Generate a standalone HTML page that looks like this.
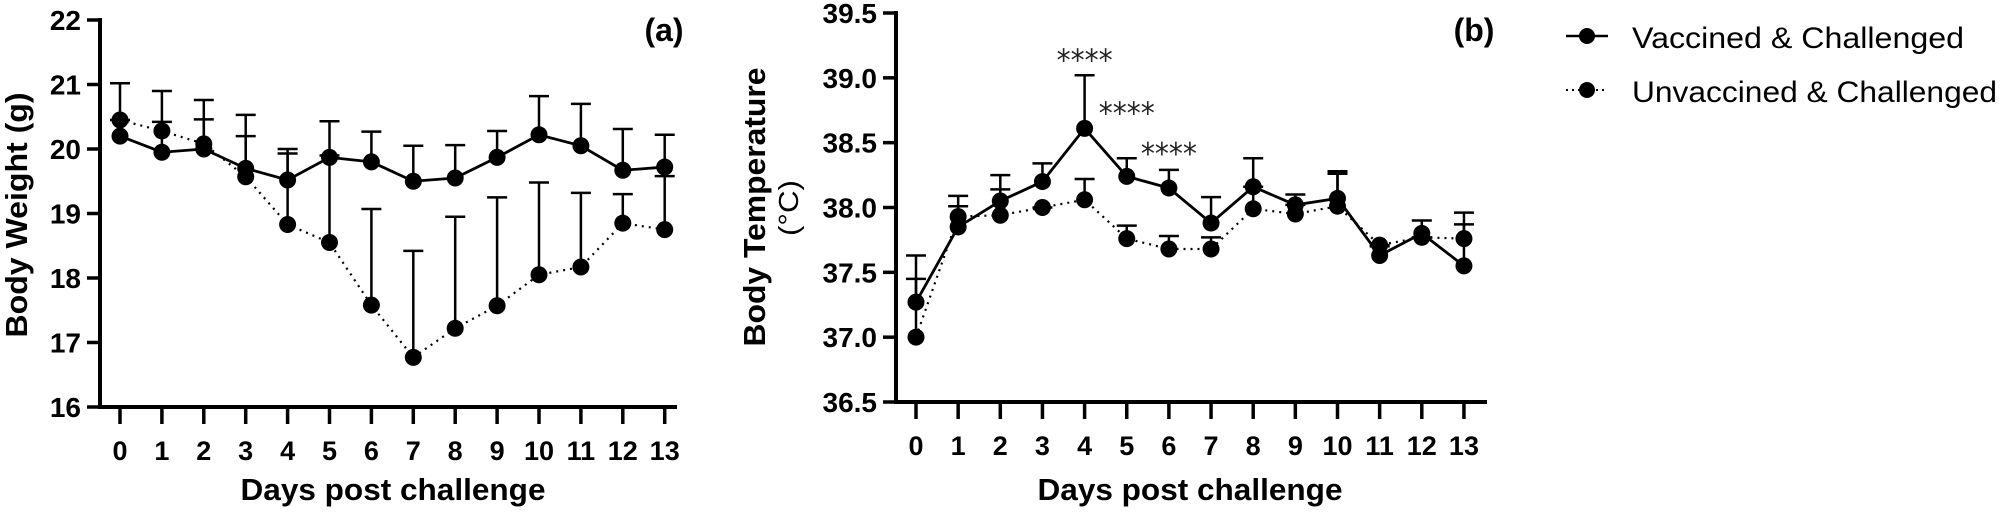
<!DOCTYPE html>
<html><head><meta charset="utf-8"><style>
html,body{margin:0;padding:0;background:#fff;}
svg{display:block;font-family:"Liberation Sans",Arial,sans-serif;}
</style></head><body>
<svg id="chart" width="2000" height="517" viewBox="0 0 2000 517" xmlns="http://www.w3.org/2000/svg">
<g id="pa"></g>
<g id="pb"></g>
<g id="legend">
  <g>
    <line x1="1566" y1="36" x2="1608" y2="36" stroke="#000" stroke-width="2.5"/>
    <circle cx="1587" cy="36" r="8"/>
    <text x="1632" y="48" font-size="30" textLength="332" lengthAdjust="spacingAndGlyphs">Vaccined &amp; Challenged</text>
  </g>
  <g>
    <line x1="1566" y1="90" x2="1608" y2="90" stroke="#000" stroke-width="2" stroke-dasharray="2,4"/>
    <circle cx="1587" cy="90" r="8"/>
    <text x="1632" y="102" font-size="30" textLength="365" lengthAdjust="spacingAndGlyphs">Unvaccined &amp; Challenged</text>
  </g>
</g>
</svg>
<script>
const days = [0,1,2,3,4,5,6,7,8,9,10,11,12,13];
// Panel A: body weight
const weightTicks = [16,17,18,19,20,21,22];
const weightVacc = [20.2,19.95,20.0,19.7,19.52,19.87,19.8,19.5,19.55,19.87,20.22,20.05,19.67,19.72];
const weightVaccTop = [20.45,20.42,20.46,20.2,19.93,20.43,20.27,20.05,20.06,20.28,20.82,20.7,20.31,20.22];
const weightUnvacc = [20.45,20.28,20.08,19.57,18.83,18.55,17.58,16.77,17.22,17.57,18.05,18.17,18.85,18.75];
const weightUnvaccTop = [21.02,20.9,20.76,20.53,20.0,19.9,19.07,18.42,18.95,19.25,19.48,19.32,19.3,19.58];
// Panel B: body temperature
const tempTicks = [36.5,37.0,37.5,38.0,38.5,39.0,39.5];
const tempTickLabels = ["36.5","37.0","37.5","38.0","38.5","39.0","39.5"];
const tempVacc = [37.27,37.85,38.05,38.2,38.61,38.24,38.15,37.88,38.16,38.02,38.07,37.63,37.8,37.55];
const tempVaccTop = [37.63,38.09,38.25,38.34,39.02,38.38,38.29,38.08,38.38,38.1,38.28,37.7,37.9,37.87];
const tempUnvacc = [37.0,37.93,37.94,38.0,38.06,37.76,37.68,37.68,37.99,37.95,38.01,37.71,37.77,37.76];
const tempUnvaccTop = [37.45,38.01,38.14,38.0,38.22,37.86,37.78,37.77,38.16,38.02,38.26,37.71,37.77,37.96];
const starDays = [4,5,6];
const starValues = [39.18,38.77,38.46];

const NS = "http://www.w3.org/2000/svg";
function mk(parent, tag, attrs, text){
  const e = document.createElementNS(NS, tag);
  for (const k in attrs) e.setAttribute(k, attrs[k]);
  if (text !== undefined) e.textContent = text;
  parent.appendChild(e);
  return e;
}

function drawPanel(g, cfg){
  const xs = d => cfg.x0 + d * cfg.dx;
  const ys = v => cfg.yBot - (v - cfg.vMin) / (cfg.vMax - cfg.vMin) * (cfg.yBot - cfg.yTop);
  const ya = mk(g, "line", {x1:cfg.axX, y1:cfg.yTop-2, x2:cfg.axX, y2:cfg.yBot+2, stroke:"#000", "stroke-width":4});
  
  
  const xa = mk(g, "line", {x1:cfg.axX-2, y1:cfg.yBot, x2:cfg.xEnd, y2:cfg.yBot, stroke:"#000", "stroke-width":4});
  
  
  cfg.yTicks.forEach((t,i) => {
    const y = ys(t);
    mk(g, "line", {x1:cfg.axX-13, y1:y, x2:cfg.axX, y2:y, stroke:"#000", "stroke-width":3.5});
    const lb = mk(g, "text", {x:cfg.axX-19, y:y+10, "font-size":28, "font-weight":"bold", "text-anchor":"end"}, cfg.yLabels[i]);
    
    
  });
  days.forEach(d => {
    const x = xs(d);
    mk(g, "line", {x1:x, y1:cfg.yBot, x2:x, y2:cfg.yBot+17, stroke:"#000", "stroke-width":3.5});
    const lb = mk(g, "text", {x:x, y:cfg.yBot+53, "font-size":27, "font-weight":"bold", "text-anchor":"middle"}, String(d));
    
    
  });
  const series = [
    {v:cfg.unvacc, top:cfg.unvaccTop, dash:"2,5", w:2.2, name:"unvaccined"},
    {v:cfg.vacc, top:cfg.vaccTop, dash:null, w:2.8, name:"vaccined"}
  ];
  series.forEach(s => {
    const sg = mk(g, "g", {});
    
    
    days.forEach((d,i) => {
      const x = xs(d), y1 = ys(s.v[i]), y2 = ys(s.top[i]);
      mk(sg, "line", {x1:x, y1:y1, x2:x, y2:y2, stroke:"#000", "stroke-width":2.5});
      mk(sg, "line", {x1:x-10, y1:y2, x2:x+10, y2:y2, stroke:"#000", "stroke-width":2.5});
    });
    const pts = days.map((d,i) => xs(d) + "," + ys(s.v[i])).join(" ");
    const pl = mk(sg, "polyline", {points:pts, fill:"none", stroke:"#000", "stroke-width":s.w});
    if (s.dash) pl.setAttribute("stroke-dasharray", s.dash);
    
    
    days.forEach((d,i) => {
      const c = mk(sg, "circle", {cx:xs(d), cy:ys(s.v[i]), r:8.5, fill:"#000"});
      
      
    });
  });
  if (cfg.stars) {
    cfg.stars.d.forEach((d,i) => {
      const st = mk(g, "text", {x:xs(d), y:ys(cfg.stars.v[i])+16, "font-size":30, "text-anchor":"middle", fill:"#222", "font-family":"DejaVu Sans, sans-serif", textLength:56, lengthAdjust:"spacingAndGlyphs"}, "****");
      
      
    });
  }
  const xt = mk(g, "text", {x:cfg.xTitleX, y:500, "font-size":31, "font-weight":"bold", "text-anchor":"middle", textLength:305, lengthAdjust:"spacingAndGlyphs"}, "Days post challenge");
  
  
  const pl = mk(g, "text", {x:cfg.plX, y:41, "font-size":32, "font-weight":"bold", "text-anchor":"middle"}, cfg.panelLabel);
  
  
}

const pa = document.getElementById("pa");
drawPanel(pa, {x0:120, dx:41.9, axX:100, xEnd:677, yTop:20, yBot:407, vMin:16, vMax:22,
  yTicks:weightTicks, yLabels:weightTicks.map(String), vacc:weightVacc, vaccTop:weightVaccTop,
  unvacc:weightUnvacc, unvaccTop:weightUnvaccTop, xTitleX:393, plX:664, panelLabel:"(a)"});
const ta = mk(pa, "text", {transform:"translate(27,215) rotate(-90)", "font-size":31, "font-weight":"bold", "text-anchor":"middle", textLength:245, lengthAdjust:"spacingAndGlyphs"}, "Body Weight (g)");



const pb = document.getElementById("pb");
drawPanel(pb, {x0:916, dx:42.15, axX:896, xEnd:1487, yTop:13, yBot:402, vMin:36.5, vMax:39.5,
  yTicks:tempTicks, yLabels:tempTickLabels, vacc:tempVacc, vaccTop:tempVaccTop,
  unvacc:tempUnvacc, unvaccTop:tempUnvaccTop, stars:{d:starDays, v:starValues}, xTitleX:1190, plX:1474, panelLabel:"(b)"});
const tb = mk(pb, "text", {transform:"translate(765,207) rotate(-90)", "font-size":31, "font-weight":"bold", "text-anchor":"middle", textLength:279, lengthAdjust:"spacingAndGlyphs"}, "Body Temperature");


const tc = mk(pb, "text", {transform:"translate(798,208) rotate(-90)", "font-size":28, "text-anchor":"middle", textLength:56, lengthAdjust:"spacingAndGlyphs"}, "(°C)");


</script>
</body></html>
